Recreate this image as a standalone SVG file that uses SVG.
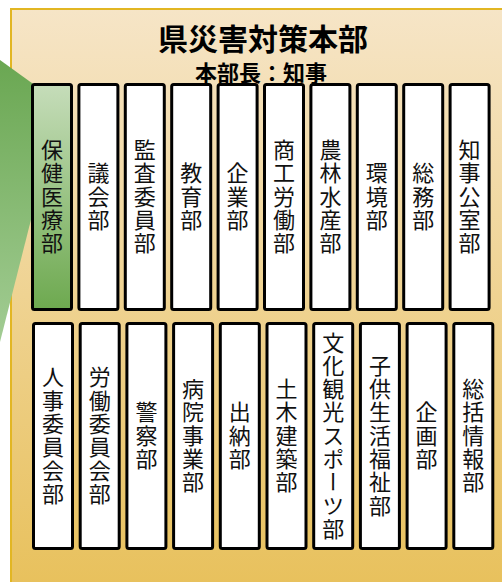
<svg xmlns="http://www.w3.org/2000/svg" width="502" height="582" viewBox="0 0 502 582">
<defs>
<linearGradient id="bg" x1="0" y1="8" x2="0" y2="582" gradientUnits="userSpaceOnUse">
<stop offset="0" stop-color="#F6E5C7"/>
<stop offset="1" stop-color="#E8C15D"/>
</linearGradient>
<linearGradient id="callout" x1="0" y1="60" x2="0" y2="340" gradientUnits="userSpaceOnUse">
<stop offset="0" stop-color="#6AA752"/>
<stop offset="1" stop-color="#A2CC93"/>
</linearGradient>
<linearGradient id="sel" x1="0" y1="84" x2="0" y2="310" gradientUnits="userSpaceOnUse">
<stop offset="0" stop-color="#C6DDBA"/>
<stop offset="1" stop-color="#6DA94F"/>
</linearGradient>
<style>
.box{fill:#fff;stroke:#000;stroke-width:3}
.v{font-family:"Noto Sans CJK JP","Noto Sans CJK SC",sans-serif;font-size:22px;fill:#111;writing-mode:vertical-rl;text-anchor:middle;letter-spacing:1.3px}
.t{font-family:"Noto Sans CJK JP","Noto Sans CJK SC",sans-serif;font-weight:bold;fill:#000;text-anchor:middle}
</style>
</defs>
<rect x="11" y="9" width="500" height="590" fill="url(#bg)" stroke="#E2B623" stroke-width="2"/>
<g id="callout-shape">
<polygon points="0,60 36,86 36,200 0,342" fill="url(#callout)"/>
</g>
<g id="title">
<text class="t" x="263" y="50" font-size="30">県災害対策本部</text>
<text class="t" x="261" y="80.5" font-size="22">本部長：知事</text>
</g>
<g id="connectors"></g>
<g id="n1"><rect class="box" x="32.5" y="84.5" width="39" height="225" rx="2" style="fill:url(#sel)"/><text class="v" x="52" y="197">保健医療部</text></g>
<g id="n2"><rect class="box" x="78.9" y="84.5" width="39" height="225" rx="2"/><text class="v" x="98.4" y="197">議会部</text></g>
<g id="n3"><rect class="box" x="125.3" y="84.5" width="39" height="225" rx="2"/><text class="v" x="144.8" y="197">監査委員部</text></g>
<g id="n4"><rect class="box" x="171.7" y="84.5" width="39" height="225" rx="2"/><text class="v" x="191.2" y="197">教育部</text></g>
<g id="n5"><rect class="box" x="218.1" y="84.5" width="39" height="225" rx="2"/><text class="v" x="237.6" y="197">企業部</text></g>
<g id="n6"><rect class="box" x="264.5" y="84.5" width="39" height="225" rx="2"/><text class="v" x="284" y="197">商工労働部</text></g>
<g id="n7"><rect class="box" x="310.9" y="84.5" width="39" height="225" rx="2"/><text class="v" x="330.4" y="197">農林水産部</text></g>
<g id="n8"><rect class="box" x="357.3" y="84.5" width="39" height="225" rx="2"/><text class="v" x="376.8" y="197">環境部</text></g>
<g id="n9"><rect class="box" x="403.7" y="84.5" width="39" height="225" rx="2"/><text class="v" x="423.2" y="197">総務部</text></g>
<g id="n10"><rect class="box" x="450.1" y="84.5" width="39" height="225" rx="2"/><text class="v" x="469.6" y="197">知事公室部</text></g>
<g id="n11"><rect class="box" x="33.5" y="323.5" width="39" height="225" rx="2"/><text class="v" x="53" y="436">人事委員会部</text></g>
<g id="n12"><rect class="box" x="80.2" y="323.5" width="39" height="225" rx="2"/><text class="v" x="99.7" y="436">労働委員会部</text></g>
<g id="n13"><rect class="box" x="126.9" y="323.5" width="39" height="225" rx="2"/><text class="v" x="146.4" y="436">警察部</text></g>
<g id="n14"><rect class="box" x="173.6" y="323.5" width="39" height="225" rx="2"/><text class="v" x="193.1" y="436">病院事業部</text></g>
<g id="n15"><rect class="box" x="220.3" y="323.5" width="39" height="225" rx="2"/><text class="v" x="239.8" y="436">出納部</text></g>
<g id="n16"><rect class="box" x="267" y="323.5" width="39" height="225" rx="2"/><text class="v" x="286.5" y="436">土木建築部</text></g>
<g id="n17"><rect class="box" x="313.7" y="323.5" width="39" height="225" rx="2"/><text class="v" x="333.2" y="436">文化観光スポーツ部</text></g>
<g id="n18"><rect class="box" x="360.4" y="323.5" width="39" height="225" rx="2"/><text class="v" x="379.9" y="436">子供生活福祉部</text></g>
<g id="n19"><rect class="box" x="407.1" y="323.5" width="39" height="225" rx="2"/><text class="v" x="426.6" y="436">企画部</text></g>
<g id="n20"><rect class="box" x="453.8" y="323.5" width="39" height="225" rx="2"/><text class="v" x="473.3" y="436">総括情報部</text></g>
</svg>
